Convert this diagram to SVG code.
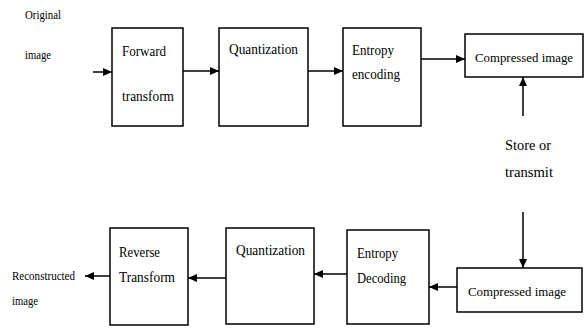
<svg xmlns="http://www.w3.org/2000/svg" width="584" height="328" viewBox="0 0 584 328">
<style>
.box{fill:#fff;stroke:#000;stroke-width:1.5}
text{font-family:'Liberation Serif','DejaVu Serif','Times New Roman',serif;fill:#000}
.t{font-size:15px}
.ci{font-size:13.5px}
.s{font-size:12px}
.c line{stroke:#000;stroke-width:1.5}
</style>
<defs>
<marker id="ah" markerUnits="userSpaceOnUse" markerWidth="10" markerHeight="10" viewBox="0 0 10 10" refX="9" refY="5" orient="auto">
<path d="M0,1 L9,5 L0,9 Z" fill="#000"/>
</marker>
</defs>
<rect width="584" height="328" fill="#fff"/>
<g id="original-label">
<text class="s" x="25" y="19" textLength="36" lengthAdjust="spacingAndGlyphs">Original</text>
<text class="s" x="25" y="59" textLength="26" lengthAdjust="spacingAndGlyphs">image</text>
</g>
<g id="forward">
<rect class="box" x="112" y="28" width="71" height="98"/>
<text class="t" x="122" y="56" textLength="44" lengthAdjust="spacingAndGlyphs">Forward</text>
<text class="t" x="122" y="101" textLength="52" lengthAdjust="spacingAndGlyphs">transform</text>
</g>
<g id="quant-top">
<rect class="box" x="219" y="28" width="89" height="98"/>
<text class="t" x="229" y="54" textLength="69" lengthAdjust="spacingAndGlyphs">Quantization</text>
</g>
<g id="entropy-enc">
<rect class="box" x="343" y="28" width="78" height="98"/>
<text class="t" x="352" y="55" textLength="42" lengthAdjust="spacingAndGlyphs">Entropy</text>
<text class="t" x="352" y="79" textLength="48" lengthAdjust="spacingAndGlyphs">encoding</text>
</g>
<g id="compressed-top">
<rect class="box" x="465" y="34" width="118" height="43"/>
<text class="ci" x="475" y="62" textLength="98" lengthAdjust="spacingAndGlyphs">Compressed image</text>
</g>
<g id="store">
<text class="t" x="505" y="150" textLength="46" lengthAdjust="spacingAndGlyphs">Store or</text>
<text class="t" x="505" y="177" textLength="48" lengthAdjust="spacingAndGlyphs">transmit</text>
</g>
<g id="compressed-bottom">
<rect class="box" x="457" y="268" width="125" height="44"/>
<text class="ci" x="468" y="296" textLength="98" lengthAdjust="spacingAndGlyphs">Compressed image</text>
</g>
<g id="entropy-dec">
<rect class="box" x="347" y="230" width="82" height="94"/>
<text class="t" x="357" y="258" textLength="41" lengthAdjust="spacingAndGlyphs">Entropy</text>
<text class="t" x="357" y="283" textLength="49" lengthAdjust="spacingAndGlyphs">Decoding</text>
</g>
<g id="quant-bottom">
<rect class="box" x="226" y="228" width="88" height="96"/>
<text class="t" x="236" y="255" textLength="69" lengthAdjust="spacingAndGlyphs">Quantization</text>
</g>
<g id="reverse">
<rect class="box" x="110" y="228" width="78" height="97"/>
<text class="t" x="119" y="257" textLength="41" lengthAdjust="spacingAndGlyphs">Reverse</text>
<text class="t" x="119" y="282" textLength="56" lengthAdjust="spacingAndGlyphs">Transform</text>
</g>
<g id="reconstructed-label">
<text class="s" x="12" y="280" textLength="63" lengthAdjust="spacingAndGlyphs">Reconstructed</text>
<text class="s" x="12" y="305" textLength="26" lengthAdjust="spacingAndGlyphs">image</text>
</g>
<g id="connectors" class="c">
<line x1="93" y1="72" x2="112" y2="72" marker-end="url(#ah)"/>
<line x1="183" y1="71" x2="219" y2="71" marker-end="url(#ah)"/>
<line x1="308" y1="71" x2="343" y2="71" marker-end="url(#ah)"/>
<line x1="421" y1="59" x2="465" y2="59" marker-end="url(#ah)"/>
<line x1="523" y1="116" x2="523" y2="77" marker-end="url(#ah)"/>
<line x1="523" y1="212" x2="523" y2="268" marker-end="url(#ah)"/>
<line x1="457" y1="287" x2="429" y2="287" marker-end="url(#ah)"/>
<line x1="347" y1="274" x2="314" y2="274" marker-end="url(#ah)"/>
<line x1="226" y1="278" x2="188" y2="278" marker-end="url(#ah)"/>
<line x1="110" y1="276" x2="85" y2="276" marker-end="url(#ah)"/>
</g>
</svg>
